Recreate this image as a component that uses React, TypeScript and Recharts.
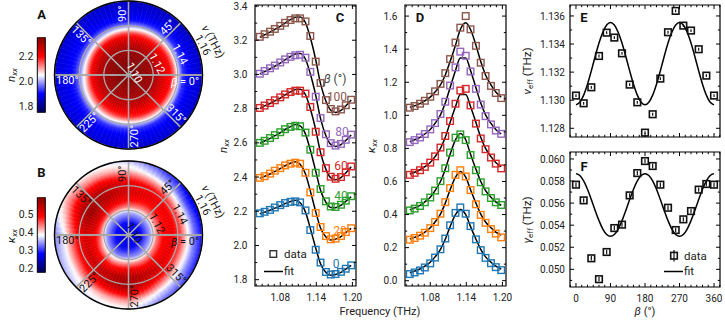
import React from 'react';
import {
  ComposedChart, Scatter, Line, Bar, XAxis, YAxis, ReferenceArea, ErrorBar,
  PieChart, Pie, Cell,
} from 'recharts';

const FONT = "Roboto, 'DejaVu Sans', sans-serif";
const INK = '#222';

/* ---------------- Panels C and D: spectra ---------------- */
const freqs = [1.046, 1.054, 1.063, 1.071, 1.080, 1.088, 1.097, 1.105, 1.113, 1.122, 1.130, 1.139, 1.147, 1.156, 1.164, 1.172, 1.181, 1.189, 1.198];
const betaValues = ['0', '20', '40', '60', '80', '100'];
const seriesColors = ['#1f77b4', '#ff7f0e', '#2ca02c', '#d62728', '#9467bd', '#8c564b'];

const nxxData0 = [2.188, 2.197, 2.208, 2.222, 2.236, 2.248, 2.255, 2.258, 2.252, 2.205, 2.090, 1.975, 1.900, 1.845, 1.830, 1.833, 1.846, 1.864, 1.884];
const nxxData20 = [2.395, 2.405, 2.420, 2.437, 2.452, 2.468, 2.478, 2.484, 2.478, 2.425, 2.310, 2.190, 2.108, 2.055, 2.036, 2.040, 2.055, 2.078, 2.101];
const nxxData40 = [2.600, 2.612, 2.628, 2.645, 2.662, 2.680, 2.693, 2.700, 2.697, 2.660, 2.560, 2.425, 2.330, 2.258, 2.228, 2.225, 2.238, 2.262, 2.288];
const nxxData60 = [2.804, 2.818, 2.833, 2.849, 2.866, 2.883, 2.897, 2.905, 2.905, 2.888, 2.810, 2.665, 2.545, 2.452, 2.402, 2.390, 2.400, 2.428, 2.462];
const nxxData80 = [3.004, 3.020, 3.036, 3.052, 3.070, 3.088, 3.103, 3.112, 3.115, 3.098, 3.015, 2.870, 2.745, 2.650, 2.598, 2.584, 2.594, 2.618, 2.648];
const nxxData100 = [3.220, 3.235, 3.250, 3.266, 3.284, 3.302, 3.318, 3.328, 3.328, 3.310, 3.225, 3.075, 2.950, 2.850, 2.798, 2.784, 2.795, 2.820, 2.852];

const nxxFit0 = [2.185, 2.195, 2.206, 2.218, 2.231, 2.245, 2.257, 2.264, 2.250, 2.195, 2.100, 1.985, 1.893, 1.842, 1.826, 1.830, 1.843, 1.862, 1.883];
const nxxFit20 = [2.392, 2.404, 2.418, 2.433, 2.449, 2.466, 2.481, 2.490, 2.475, 2.418, 2.319, 2.198, 2.102, 2.049, 2.032, 2.037, 2.052, 2.075, 2.100];
const nxxFit40 = [2.597, 2.611, 2.626, 2.642, 2.659, 2.678, 2.695, 2.707, 2.699, 2.651, 2.558, 2.435, 2.323, 2.252, 2.222, 2.221, 2.235, 2.258, 2.285];
const nxxFit60 = [2.802, 2.816, 2.830, 2.845, 2.862, 2.880, 2.898, 2.912, 2.914, 2.881, 2.799, 2.676, 2.543, 2.445, 2.396, 2.384, 2.397, 2.424, 2.460];
const nxxFit80 = [3.002, 3.017, 3.032, 3.048, 3.066, 3.085, 3.105, 3.120, 3.122, 3.089, 3.004, 2.878, 2.742, 2.642, 2.591, 2.579, 2.590, 2.614, 2.646];
const nxxFit100 = [3.217, 3.232, 3.247, 3.263, 3.281, 3.300, 3.320, 3.335, 3.336, 3.302, 3.216, 3.086, 2.946, 2.843, 2.791, 2.778, 2.790, 2.816, 2.850];

const kxxData0 = [0.040, 0.050, 0.062, 0.080, 0.105, 0.140, 0.190, 0.255, 0.335, 0.410, 0.443, 0.405, 0.330, 0.250, 0.185, 0.138, 0.106, 0.082, 0.064];
const kxxData20 = [0.248, 0.258, 0.272, 0.290, 0.318, 0.355, 0.405, 0.475, 0.560, 0.640, 0.668, 0.630, 0.548, 0.462, 0.398, 0.350, 0.312, 0.285, 0.262];
const kxxData40 = [0.425, 0.436, 0.452, 0.474, 0.503, 0.545, 0.602, 0.680, 0.775, 0.865, 0.885, 0.850, 0.760, 0.668, 0.595, 0.540, 0.500, 0.474, 0.458];
const kxxData60 = [0.640, 0.652, 0.668, 0.688, 0.714, 0.752, 0.805, 0.875, 0.965, 1.070, 1.150, 1.160, 1.060, 0.950, 0.860, 0.795, 0.745, 0.708, 0.679];
const kxxData80 = [0.838, 0.850, 0.866, 0.887, 0.915, 0.953, 1.008, 1.082, 1.180, 1.290, 1.385, 1.360, 1.265, 1.160, 1.065, 0.995, 0.945, 0.908, 0.888];
const kxxData100 = [1.046, 1.056, 1.070, 1.088, 1.112, 1.145, 1.190, 1.255, 1.340, 1.440, 1.530, 1.600, 1.520, 1.420, 1.318, 1.238, 1.178, 1.135, 1.104];

const kxxFit0 = [0.048, 0.058, 0.071, 0.088, 0.112, 0.144, 0.190, 0.251, 0.327, 0.399, 0.430, 0.399, 0.327, 0.251, 0.190, 0.144, 0.112, 0.088, 0.071];
const kxxFit20 = [0.252, 0.262, 0.276, 0.294, 0.320, 0.355, 0.403, 0.469, 0.550, 0.626, 0.660, 0.626, 0.550, 0.469, 0.403, 0.355, 0.320, 0.294, 0.276];
const kxxFit40 = [0.428, 0.440, 0.456, 0.477, 0.505, 0.545, 0.600, 0.674, 0.765, 0.852, 0.890, 0.852, 0.765, 0.674, 0.600, 0.545, 0.505, 0.477, 0.456];
const kxxFit60 = [0.645, 0.656, 0.671, 0.690, 0.715, 0.750, 0.800, 0.867, 0.956, 1.053, 1.126, 1.126, 1.053, 0.956, 0.867, 0.800, 0.750, 0.715, 0.690];
const kxxFit80 = [0.840, 0.852, 0.867, 0.887, 0.914, 0.951, 1.003, 1.074, 1.167, 1.271, 1.347, 1.347, 1.271, 1.167, 1.074, 1.003, 0.951, 0.914, 0.887];
const kxxFit100 = [1.048, 1.058, 1.071, 1.088, 1.110, 1.141, 1.184, 1.244, 1.325, 1.424, 1.519, 1.560, 1.519, 1.424, 1.325, 1.244, 1.184, 1.141, 1.110];

const nxxDataSets = [nxxData0, nxxData20, nxxData40, nxxData60, nxxData80, nxxData100];
const nxxFitSets = [nxxFit0, nxxFit20, nxxFit40, nxxFit60, nxxFit80, nxxFit100];
const kxxDataSets = [kxxData0, kxxData20, kxxData40, kxxData60, kxxData80, kxxData100];
const kxxFitSets = [kxxFit0, kxxFit20, kxxFit40, kxxFit60, kxxFit80, kxxFit100];

const freqDomain = [1.038, 1.206];
const freqTicks = [1.04, 1.05, 1.06, 1.07, 1.08, 1.09, 1.10, 1.11, 1.12, 1.13, 1.14, 1.15, 1.16, 1.17, 1.18, 1.19, 1.20];
const freqMajor = [1.08, 1.14, 1.20];
const nxxDomain = [1.763, 3.406];
const nxxTicks = [1.8, 1.9, 2.0, 2.1, 2.2, 2.3, 2.4, 2.5, 2.6, 2.7, 2.8, 2.9, 3.0, 3.1, 3.2, 3.3, 3.4];
const nxxMajor = [1.8, 2.0, 2.2, 2.4, 2.6, 2.8, 3.0, 3.2, 3.4];
const kxxDomain = [-0.032, 1.667];
const kxxTicks = [0.0, 0.1, 0.2, 0.3, 0.4, 0.5, 0.6, 0.7, 0.8, 0.9, 1.0, 1.1, 1.2, 1.3, 1.4, 1.5, 1.6];
const kxxMajor = [0.0, 0.2, 0.4, 0.6, 0.8, 1.0, 1.2, 1.4, 1.6];

/* ---------------- Panels E and F: vs beta ---------------- */
const betaPoints = [0, 20, 40, 60, 80, 100, 120, 140, 160, 180, 200, 220, 240, 260, 280, 300, 320, 340, 360];
const nuEff = [1.13033, 1.12978, 1.13092, 1.13315, 1.13481, 1.13446, 1.13334, 1.13111, 1.12985, 1.12769, 1.12900, 1.13154, 1.13484, 1.13636, 1.13531, 1.13496, 1.13363, 1.13175, 1.13033];
const nuEffErr = [0.0001, 0.0001, 0.0001, 0.0001, 0.0001, 0.0001, 0.0001, 0.0001, 0.0001, 0.0001, 0.0001, 0.0001, 0.0001, 0.0001, 0.0001, 0.0001, 0.0001, 0.0001, 0.0001];
const gammaEff = [0.05767, 0.05625, 0.05100, 0.04911, 0.05157, 0.05374, 0.05405, 0.05670, 0.05872, 0.05981, 0.05936, 0.05767, 0.05558, 0.05356, 0.05453, 0.05528, 0.05722, 0.05773, 0.05767];
const gammaEffErr = [0.0002, 0.0002, 0.0002, 0.0002, 0.0002, 0.0002, 0.0002, 0.0002, 0.0002, 0.0002, 0.0002, 0.0002, 0.0002, 0.0002, 0.0002, 0.0002, 0.0002, 0.0002, 0.0002];
const betaFit = [0, 10, 20, 30, 40, 50, 60, 70, 80, 90, 100, 110, 120, 130, 140, 150, 160, 170, 180, 190, 200, 210, 220, 230, 240, 250, 260, 270, 280, 290, 300, 310, 320, 330, 340, 350, 360];
const nuEffFit = [1.12967, 1.12985, 1.13036, 1.13114, 1.13209, 1.13311, 1.13407, 1.13484, 1.13535, 1.13553, 1.13535, 1.13484, 1.13407, 1.13311, 1.13209, 1.13114, 1.13036, 1.12985, 1.12967, 1.12985, 1.13036, 1.13114, 1.13209, 1.13311, 1.13407, 1.13484, 1.13535, 1.13553, 1.13535, 1.13484, 1.13407, 1.13311, 1.13209, 1.13114, 1.13036, 1.12985, 1.12967];
const gammaEffFit = [0.05867, 0.05850, 0.05801, 0.05725, 0.05632, 0.05534, 0.05441, 0.05365, 0.05316, 0.05299, 0.05316, 0.05365, 0.05441, 0.05534, 0.05632, 0.05725, 0.05801, 0.05850, 0.05867, 0.05850, 0.05801, 0.05725, 0.05632, 0.05534, 0.05441, 0.05365, 0.05316, 0.05299, 0.05316, 0.05365, 0.05441, 0.05534, 0.05632, 0.05725, 0.05801, 0.05850, 0.05867];

const betaDomain = [-15.6, 375.6];
const betaTicks = [-15, 0, 15, 30, 45, 60, 75, 90, 105, 120, 135, 150, 165, 180, 195, 210, 225, 240, 255, 270, 285, 300, 315, 330, 345, 360, 375];
const betaMajor = [0, 90, 180, 270, 360];
const nuEffDomain = [1.12738, 1.13678];
const nuEffTicks = [1.128, 1.129, 1.130, 1.131, 1.132, 1.133, 1.134, 1.135, 1.136];
const nuEffMajor = [1.128, 1.130, 1.132, 1.134, 1.136];
const gammaDomain = [0.0484, 0.06063];
const gammaTicks = [0.049, 0.050, 0.051, 0.052, 0.053, 0.054, 0.055, 0.056, 0.057, 0.058, 0.059, 0.060];
const gammaMajor = [0.050, 0.052, 0.054, 0.056, 0.058, 0.060];

/* ---------------- Panels A and B: polar maps ---------------- */
const mapAngles = [0, 30, 60, 90, 120, 150, 180, 210, 240, 270, 300, 330];
const nxxMapNu = [1.100, 1.108, 1.118, 1.125, 1.130, 1.134, 1.137, 1.140, 1.144, 1.150, 1.160];
const nxxMap = [
  [2.35, 2.35, 2.32, 2.27, 2.23, 2.20, 2.14, 2.04, 1.93, 1.89, 1.86],
  [2.35, 2.35, 2.32, 2.27, 2.23, 2.19, 2.12, 2.02, 1.93, 1.89, 1.85],
  [2.35, 2.35, 2.33, 2.28, 2.23, 2.17, 2.09, 2.00, 1.92, 1.88, 1.85],
  [2.35, 2.35, 2.33, 2.28, 2.23, 2.16, 2.06, 1.98, 1.91, 1.88, 1.85],
  [2.35, 2.35, 2.33, 2.28, 2.23, 2.14, 2.04, 1.97, 1.91, 1.88, 1.86],
  [2.35, 2.35, 2.33, 2.28, 2.22, 2.12, 2.02, 1.96, 1.91, 1.89, 1.86],
  [2.35, 2.35, 2.32, 2.27, 2.21, 2.10, 2.03, 1.97, 1.92, 1.89, 1.87],
  [2.35, 2.35, 2.32, 2.27, 2.21, 2.13, 2.06, 1.99, 1.92, 1.89, 1.87],
  [2.35, 2.34, 2.31, 2.27, 2.22, 2.16, 2.09, 2.01, 1.93, 1.89, 1.87],
  [2.35, 2.34, 2.31, 2.27, 2.22, 2.18, 2.10, 2.01, 1.93, 1.89, 1.86],
  [2.35, 2.34, 2.31, 2.27, 2.22, 2.19, 2.12, 2.03, 1.93, 1.89, 1.86],
  [2.35, 2.35, 2.32, 2.27, 2.23, 2.20, 2.13, 2.04, 1.93, 1.89, 1.86],
];
const kxxMapNu = [1.100, 1.110, 1.118, 1.123, 1.128, 1.135, 1.142, 1.148, 1.153, 1.160];
const kxxMap = [
  [0.27, 0.28, 0.35, 0.44, 0.49, 0.50, 0.46, 0.39, 0.33, 0.28],
  [0.27, 0.28, 0.35, 0.43, 0.48, 0.50, 0.45, 0.37, 0.31, 0.26],
  [0.27, 0.28, 0.35, 0.43, 0.48, 0.51, 0.48, 0.41, 0.35, 0.30],
  [0.27, 0.28, 0.35, 0.44, 0.49, 0.52, 0.51, 0.45, 0.40, 0.36],
  [0.27, 0.28, 0.35, 0.45, 0.51, 0.55, 0.54, 0.49, 0.43, 0.38],
  [0.27, 0.28, 0.35, 0.46, 0.53, 0.57, 0.55, 0.50, 0.45, 0.40],
  [0.27, 0.28, 0.35, 0.45, 0.51, 0.52, 0.48, 0.42, 0.37, 0.33],
  [0.26, 0.27, 0.34, 0.42, 0.49, 0.53, 0.49, 0.43, 0.38, 0.35],
  [0.26, 0.27, 0.33, 0.41, 0.48, 0.54, 0.53, 0.47, 0.41, 0.37],
  [0.26, 0.27, 0.34, 0.43, 0.50, 0.56, 0.56, 0.50, 0.43, 0.38],
  [0.27, 0.28, 0.34, 0.43, 0.49, 0.54, 0.50, 0.43, 0.37, 0.32],
  [0.27, 0.28, 0.35, 0.44, 0.49, 0.51, 0.46, 0.39, 0.34, 0.29],
];
const nxxRange = [1.752, 2.355];
const kxxRange = [0.176, 0.592];
const nxxBarTicks = [1.8, 2.0, 2.2];
const kxxBarTicks = [0.2, 0.3, 0.4, 0.5];
const polarAngleTicks = [0, 45, 90, 135, 180, 225, 270, 315];
const polarNuTicks = [1.10, 1.12, 1.14, 1.16];
const polarNuRange = [1.10, 1.16];

/* ---------------- helpers ---------------- */
const POLAR_R = 74;
const POLAR_CX = 128.5;
const POLAR_CY = 75;
const SECTORS = 90;
const ANGLE_STEP = 360 / mapAngles.length;

function seismic(t: number): string {
  const tt = Math.max(0, Math.min(1, t));
  const k = [[0, 0, 0, 0.3], [0.25, 0, 0, 1], [0.5, 1, 1, 1], [0.75, 1, 0, 0], [1, 0.5, 0, 0]];
  for (let i = 0; i < 4; i++) {
    const a = k[i], b = k[i + 1];
    if (tt <= b[0] || i === 3) {
      const u = (tt - a[0]) / (b[0] - a[0]);
      const c = [1, 2, 3].map((j) => Math.round(255 * (a[j] + u * (b[j] - a[j]))));
      return `rgb(${c[0]},${c[1]},${c[2]})`;
    }
  }
  return '#fff';
}

function rowAt(map: number[][], angle: number): number[] {
  const n = map.length;
  const j = Math.floor(angle / ANGLE_STEP) % n;
  const t = (angle - j * ANGLE_STEP) / ANGLE_STEP;
  const a = map[j], b = map[(j + 1) % n];
  return a.map((v, i) => v * (1 - t) + b[i] * t);
}

function radialStops(nodes: number[], vals: number[], range: number[]) {
  const stops: { off: number; color: string }[] = [];
  const span = polarNuRange[1] - polarNuRange[0];
  for (let i = 0; i < nodes.length - 1; i++) {
    for (let s = 0; s < 4; s++) {
      const u = s / 4;
      const nu = nodes[i] + u * (nodes[i + 1] - nodes[i]);
      const v = vals[i] + u * (vals[i + 1] - vals[i]);
      stops.push({ off: (nu - polarNuRange[0]) / span, color: seismic((v - range[0]) / (range[1] - range[0])) });
    }
  }
  const last = nodes.length - 1;
  stops.push({ off: 1, color: seismic((vals[last] - range[0]) / (range[1] - range[0])) });
  return stops;
}

const isMajor = (majors: number[], v: number) => majors.some((m) => Math.abs(m - v) < 1e-7);

function makeXTick(majors: number[], plotH: number, fmt: ((v: number) => string) | null) {
  return (props: any) => {
    const { x, y, payload } = props;
    const v = payload.value;
    const major = isMajor(majors, v);
    const len = major ? 4 : 2.2;
    return (
      <g>
        <line x1={x} x2={x} y1={y} y2={y - len} stroke="#000" strokeWidth={1} />
        <line x1={x} x2={x} y1={y - plotH} y2={y - plotH + len} stroke="#000" strokeWidth={1} />
        {major && fmt ? (
          <text x={x} y={y + 14.5} textAnchor="middle" fontSize={10} fontFamily={FONT} fill={INK}>{fmt(v)}</text>
        ) : null}
      </g>
    );
  };
}

function makeYTick(majors: number[], plotW: number, fmt: (v: number) => string, gap: number) {
  return (props: any) => {
    const { x, y, payload } = props;
    const v = payload.value;
    const major = isMajor(majors, v);
    const len = major ? 4 : 2.2;
    return (
      <g>
        <line x1={x} x2={x + len} y1={y} y2={y} stroke="#000" strokeWidth={1} />
        <line x1={x + plotW} x2={x + plotW - len} y1={y} y2={y} stroke="#000" strokeWidth={1} />
        {major ? (
          <text x={x - gap} y={y + 3.6} textAnchor="end" fontSize={10} fontFamily={FONT} fill={INK}>{fmt(v)}</text>
        ) : null}
      </g>
    );
  };
}

function makeBarTick(fmt: (v: number) => string) {
  return (props: any) => {
    const { x, y, payload } = props;
    return (
      <text x={x - 4} y={y + 3.6} textAnchor="end" fontSize={10.5} fontFamily={FONT} fill={INK}>{fmt(payload.value)}</text>
    );
  };
}

const squareShape = (color: string) => (p: any) => (
  <rect x={p.cx - 3.3} y={p.cy - 3.3} width={6.6} height={6.6} fill="none" stroke={color} strokeWidth={1.4} />
);
const blackSquare = (p: any) => (
  <rect x={p.cx - 3.3} y={p.cy - 3.3} width={6.6} height={6.6} fill="none" stroke="#111" strokeWidth={1.6} />
);

/* ---------------- chart components ---------------- */
function SpectraPanel({ left, dataSets, fitSets, yDomain, yTicks, yMajor }: any) {
  const plotW = 101;
  const plotH = 281;
  return (
    <div style={{ position: 'absolute', left, top: 0 }}>
      <ComposedChart width={172} height={320} margin={{ top: 5, right: 16, bottom: 10, left: 10 }}>
        <XAxis type="number" dataKey="f" domain={freqDomain} ticks={freqTicks} interval={0} allowDataOverflow
          height={24} axisLine={false} tickLine={false} tickSize={0} tickMargin={0}
          tick={makeXTick(freqMajor, plotH, (v) => v.toFixed(2))} />
        <YAxis type="number" dataKey="v" domain={yDomain} ticks={yTicks} interval={0} allowDataOverflow
          width={45} axisLine={false} tickLine={false} tickSize={0} tickMargin={0}
          tick={makeYTick(yMajor, plotW, (v) => v.toFixed(1), 7.5)} />
        {dataSets.map((arr: number[], s: number) => (
          <Scatter key={'d' + s} data={freqs.map((f, i) => ({ f, v: arr[i] }))} dataKey="v"
            shape={squareShape(seriesColors[s])} isAnimationActive={false} />
        ))}
        {fitSets.map((arr: number[], s: number) => (
          <Line key={'l' + s} data={freqs.map((f, i) => ({ f, v: arr[i] }))} dataKey="v" type="monotoneX"
            stroke="#000" strokeWidth={1.5} dot={false} activeDot={false} isAnimationActive={false} />
        ))}
        <ReferenceArea x1={freqDomain[0]} x2={freqDomain[1]} y1={yDomain[0]} y2={yDomain[1]}
          fill="none" fillOpacity={0} stroke="#000" strokeWidth={1.2} ifOverflow="visible" />
      </ComposedChart>
    </div>
  );
}

function BetaPanel({ top, height, margin, xHeight, showX, yDomain, yTicks, yMajor, pts, errs, fit, plotH }: any) {
  const plotW = 150;
  return (
    <div style={{ position: 'absolute', left: 520, top }}>
      <ComposedChart width={205} height={height} margin={margin}>
        <XAxis type="number" dataKey="b" domain={betaDomain} ticks={betaTicks} interval={0} allowDataOverflow
          height={xHeight} axisLine={false} tickLine={false} tickSize={0} tickMargin={0}
          tick={makeXTick(betaMajor, plotH, showX ? (v) => String(v) : null)} />
        <YAxis type="number" dataKey="v" domain={yDomain} ticks={yTicks} interval={0} allowDataOverflow
          width={45} axisLine={false} tickLine={false} tickSize={0} tickMargin={0}
          tick={makeYTick(yMajor, plotW, (v) => v.toFixed(3), 5)} />
        <Line data={betaFit.map((b, i) => ({ b, v: fit[i] }))} dataKey="v" type="monotoneX"
          stroke="#000" strokeWidth={1.5} dot={false} activeDot={false} isAnimationActive={false} />
        <Scatter data={betaPoints.map((b, i) => ({ b, v: pts[i], e: errs[i] }))} dataKey="v"
          shape={blackSquare} isAnimationActive={false}>
          <ErrorBar dataKey="e" direction="y" width={0} stroke="#111" strokeWidth={1.2} isAnimationActive={false} />
        </Scatter>
        <ReferenceArea x1={betaDomain[0]} x2={betaDomain[1]} y1={yDomain[0]} y2={yDomain[1]}
          fill="none" fillOpacity={0} stroke="#000" strokeWidth={1.2} ifOverflow="visible" />
      </ComposedChart>
    </div>
  );
}

function PolarMap({ top, prefix }: { top: number; prefix: string }) {
  const sectorData = Array.from({ length: SECTORS }, (_, k) => ({ name: String(k), value: 1 }));
  const spokeData = polarAngleTicks.map((a) => ({ name: String(a), value: 1 }));
  const gridR = polarNuTicks.slice(1, 3).map((nu) => ((nu - polarNuRange[0]) / (polarNuRange[1] - polarNuRange[0])) * POLAR_R);
  const common = { cx: POLAR_CX, cy: POLAR_CY, dataKey: 'value', isAnimationActive: false, label: false, labelLine: false } as any;
  return (
    <div style={{ position: 'absolute', left: 0, top }}>
      <PieChart width={210} height={155} margin={{ top: 0, right: 0, bottom: 0, left: 0 }}>
        <Pie {...common} data={sectorData} innerRadius={0} outerRadius={POLAR_R}
          startAngle={-360 / SECTORS / 2} endAngle={360 - 360 / SECTORS / 2} stroke="none">
          {sectorData.map((_, k) => (
            <Cell key={k} fill={`url(#${prefix}${k})`} stroke={`url(#${prefix}${k})`} strokeWidth={0.6} />
          ))}
        </Pie>
        <Pie {...common} data={spokeData} innerRadius={0} outerRadius={POLAR_R} startAngle={0} endAngle={360}
          fill="none" stroke="#a8a8a8" strokeWidth={1.3} />
        {gridR.map((r) => (
          <Pie key={r} {...common} data={[{ name: 'ring', value: 1 }]} innerRadius={r - 0.65} outerRadius={r + 0.65}
            startAngle={0} endAngle={360} fill="#a8a8a8" stroke="none" />
        ))}
        <Pie {...common} data={[{ name: 'edge', value: 1 }]} innerRadius={POLAR_R - 0.7} outerRadius={POLAR_R + 0.7}
          startAngle={0} endAngle={360} fill="#000" stroke="none" />
      </PieChart>
    </div>
  );
}

function ColorBar({ top, range, ticks, gradId, fmt }: any) {
  const data = [{ name: 'bar', v: [range[0], range[1]] }];
  return (
    <div style={{ position: 'absolute', left: 0, top }}>
      <ComposedChart width={50} height={90} data={data} barCategoryGap={0} margin={{ top: 7.3, right: 4.3, bottom: 7.3, left: 0 }}>
        <XAxis type="category" dataKey="name" hide />
        <YAxis type="number" domain={range} ticks={ticks} interval={0} allowDataOverflow width={37.3}
          axisLine={false} tickLine={false} tickSize={0} tickMargin={0} tick={makeBarTick(fmt)} />
        <Bar dataKey="v" fill={`url(#${gradId})`} stroke="#000" strokeWidth={1} isAnimationActive={false} />
      </ComposedChart>
    </div>
  );
}

function Gradients() {
  const mk = (prefix: string, map: number[][], nodes: number[], range: number[]) =>
    Array.from({ length: SECTORS }, (_, k) => {
      const stops = radialStops(nodes, rowAt(map, (k * 360) / SECTORS), range);
      return (
        <radialGradient key={prefix + k} id={prefix + k} gradientUnits="userSpaceOnUse"
          cx={POLAR_CX} cy={POLAR_CY} r={POLAR_R} fx={POLAR_CX} fy={POLAR_CY}>
          {stops.map((s, i) => <stop key={i} offset={s.off} stopColor={s.color} />)}
        </radialGradient>
      );
    });
  const cb = [1, 0.75, 0.5, 0.25, 0];
  return (
    <svg width={0} height={0} style={{ position: 'absolute' }}>
      <defs>
        {mk('hmA', nxxMap, nxxMapNu, nxxRange)}
        {mk('hmB', kxxMap, kxxMapNu, kxxRange)}
        <linearGradient id="cbar" x1="0" y1="0" x2="0" y2="1">
          {cb.map((t, i) => <stop key={i} offset={i / 4} stopColor={seismic(t)} />)}
        </linearGradient>
      </defs>
    </svg>
  );
}

/* ---------------- text overlay ---------------- */
function PolarText({ cx, cy, inner }: { cx: number; cy: number; inner: string }) {
  const nuSpan = polarNuRange[1] - polarNuRange[0];
  const rad = (d: number) => (d * Math.PI) / 180;
  return (
    <g fontFamily={FONT} fontSize={11}>
      {polarAngleTicks.map((a) => {
        const off = a === 0 ? -6.5 : 5.5;
        const r = a === 0 ? 57 : 61.5;
        const x = cx + r * Math.cos(rad(a + off));
        const y = cy - r * Math.sin(rad(a + off));
        let rot = -(a % 180);
        if (rot < -90) rot += 180;
        return (
          <text key={a} transform={`translate(${x.toFixed(1)},${y.toFixed(1)}) rotate(${rot})`}
            textAnchor="middle" dominantBaseline="central" fill={inner}>
            {a === 0 ? (<><tspan fontStyle="italic">β</tspan> = 0°</>) : `${a}°`}
          </text>
        );
      })}
      {polarNuTicks.map((nu) => {
        const r = ((nu - polarNuRange[0]) / nuSpan) * POLAR_R + 6;
        const x = cx + r * Math.cos(rad(22));
        const y = cy - r * Math.sin(rad(22));
        const outside = nu >= polarNuRange[1] - 1e-9;
        return (
          <text key={nu} transform={`translate(${x.toFixed(1)},${y.toFixed(1)}) rotate(62)`}
            textAnchor="middle" dominantBaseline="central" fill={outside ? INK : inner}>
            {nu.toFixed(2)}
          </text>
        );
      })}
      <text transform={`translate(${(cx + 91 * Math.cos(rad(21.5))).toFixed(1)},${(cy - 91 * Math.sin(rad(21.5))).toFixed(1)}) rotate(62)`}
        textAnchor="middle" dominantBaseline="central" fill={INK}>
        <tspan fontStyle="italic">ν</tspan> (THz)
      </text>
    </g>
  );
}

function Overlay() {
  const letter = (t: string, x: number, y: number) => (
    <text x={x} y={y} textAnchor="middle" dominantBaseline="central" fontSize={13} fontWeight={700} fill="#111">{t}</text>
  );
  const rotLabel = (x: number, y: number, main: string, sub: string, rest: string, italicSub: boolean) => (
    <text transform={`translate(${x},${y}) rotate(-90)`} textAnchor="middle" dominantBaseline="central" fontSize={11.5} fill={INK}>
      <tspan fontStyle="italic">{main}</tspan>
      <tspan fontSize={8} dy={3} fontStyle={italicSub ? 'italic' : 'normal'}>{sub}</tspan>
      {rest ? <tspan dy={-3}>{rest}</tspan> : null}
    </text>
  );
  const betaLabelPos = [[336, 263], [340, 230], [341, 195], [341, 165], [342, 131], [337, 96]];
  return (
    <svg width={725} height={320} style={{ position: 'absolute', left: 0, top: 0, pointerEvents: 'none' }} fontFamily={FONT}>
      {letter('A', 41.5, 14)}
      {letter('B', 41.5, 172)}
      {letter('C', 340, 17)}
      {letter('D', 420, 17)}
      {letter('E', 584, 17)}
      {letter('F', 584, 166)}
      {rotLabel(11, 75, 'n', 'xx', '', true)}
      {rotLabel(11, 236, 'κ', 'xx', '', true)}
      {rotLabel(223, 146, 'n', 'xx', '', true)}
      {rotLabel(371, 146, 'κ', 'xx', '', true)}
      {rotLabel(527, 71, 'ν', 'eff', ' (THz)', false)}
      {rotLabel(527, 220, 'γ', 'eff', ' (THz)', false)}
      <text x={380} y={315} textAnchor="middle" fontSize={11} fill={INK}>Frequency (THz)</text>
      <text x={645} y={315} textAnchor="middle" fontSize={11} fill={INK}><tspan fontStyle="italic">β</tspan> (°)</text>
      <text x={335} y={83} textAnchor="middle" fontSize={12} fill="#444"><tspan fontStyle="italic">β</tspan> (°)</text>
      {betaValues.map((b, s) => (
        <text key={b} x={betaLabelPos[s][0]} y={betaLabelPos[s][1] + 4.5} textAnchor="middle" fontSize={12} fill={seriesColors[s]}>{b}</text>
      ))}
      {/* legend C */}
      <rect x={270} y={250.7} width={6.6} height={6.6} fill="none" stroke="#333" strokeWidth={1.4} />
      <text x={284} y={258.3} fontSize={11.5} fill={INK}>data</text>
      <line x1={264} x2={283} y1={271.5} y2={271.5} stroke="#000" strokeWidth={1.5} />
      <text x={284} y={275.3} fontSize={11.5} fill={INK}>fit</text>
      {/* legend F */}
      <line x1={674} x2={674} y1={250} y2={261.5} stroke="#111" strokeWidth={1.2} />
      <rect x={670.7} y={252.4} width={6.6} height={6.6} fill="none" stroke="#111" strokeWidth={1.6} />
      <text x={684} y={260} fontSize={11.5} fill={INK}>data</text>
      <line x1={664} x2={683} y1={271.5} y2={271.5} stroke="#000" strokeWidth={1.5} />
      <text x={684} y={275.3} fontSize={11.5} fill={INK}>fit</text>
      <PolarText cx={POLAR_CX} cy={POLAR_CY} inner="#fff" />
      <PolarText cx={POLAR_CX} cy={POLAR_CY + 160} inner="#111" />
    </svg>
  );
}

export default function App() {
  return (
    <div style={{ position: 'absolute', left: 0, top: 0, width: 725, height: 320, background: '#fff', overflow: 'hidden', fontFamily: FONT }}>
      <Gradients />
      <PolarMap top={0} prefix="hmA" />
      <PolarMap top={160} prefix="hmB" />
      <ColorBar top={30} range={nxxRange} ticks={nxxBarTicks} gradId="cbar" fmt={(v: number) => v.toFixed(1)} />
      <ColorBar top={190} range={kxxRange} ticks={kxxBarTicks} gradId="cbar" fmt={(v: number) => v.toFixed(1)} />
      <SpectraPanel left={200} dataSets={nxxDataSets} fitSets={nxxFitSets} yDomain={nxxDomain} yTicks={nxxTicks} yMajor={nxxMajor} />
      <SpectraPanel left={350} dataSets={kxxDataSets} fitSets={kxxFitSets} yDomain={kxxDomain} yTicks={kxxTicks} yMajor={kxxMajor} />
      <BetaPanel top={0} height={145} margin={{ top: 5, right: 5, bottom: 0, left: 5 }} xHeight={8} showX={false}
        yDomain={nuEffDomain} yTicks={nuEffTicks} yMajor={nuEffMajor} pts={nuEff} errs={nuEffErr} fit={nuEffFit} plotH={132} />
      <BetaPanel top={145} height={175} margin={{ top: 7, right: 5, bottom: 9, left: 5 }} xHeight={24} showX
        yDomain={gammaDomain} yTicks={gammaTicks} yMajor={gammaMajor} pts={gammaEff} errs={gammaEffErr} fit={gammaEffFit} plotH={135} />
      <Overlay />
    </div>
  );
}
